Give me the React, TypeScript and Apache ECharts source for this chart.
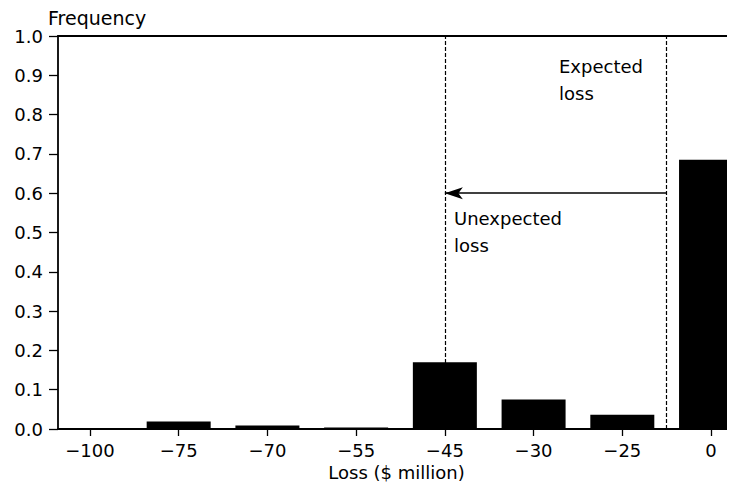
import React, { useEffect, useRef } from "react";
import * as echarts from "echarts";

const categories = ["−100", "−75", "−70", "−55", "−45", "−30", "−25", "0"];
const frequencies = [0, 0.019, 0.009, 0.004, 0.17, 0.075, 0.036, 0.685];
const yTicks = [0, 0.1, 0.2, 0.3, 0.4, 0.5, 0.6, 0.7, 0.8, 0.9, 1.0];
const unexpectedLossPos = 4; // at −45
const expectedLossPos = 6.5; // between −25 and 0
const arrowLevel = 0.6;

const FONT = "'DejaVu Sans', 'Liberation Sans', Arial, sans-serif";
const FS = 18;

export default function App() {
  const ref = useRef<HTMLDivElement>(null);
  useEffect(() => {
    if (!ref.current) return;
    const chart = echarts.init(ref.current, null, { renderer: "svg" });
    const idx = categories.map((_, i) => i);
    chart.setOption({
      animation: false,
      textStyle: { fontFamily: FONT, color: "#000" },
      grid: { left: 58, right: 0, top: 36, bottom: 62, containLabel: false },
      xAxis: [
        {
          type: "value",
          min: -0.36,
          max: 7.27,
          position: "bottom",
          axisLine: { show: true, onZero: false, lineStyle: { color: "#000", width: 1.8 } },
          axisTick: { show: true, customValues: idx, length: 7, inside: false, lineStyle: { color: "#000", width: 1.3 } },
          axisLabel: {
            customValues: idx,
            margin: 12,
            fontSize: FS,
            color: "#000",
            fontFamily: FONT,
            formatter: (v: number) => categories[Math.round(v)] ?? "",
          },
          splitLine: { show: false },
          name: "Loss ($ million)",
          nameLocation: "middle",
          nameGap: 34,
          nameTextStyle: { fontSize: FS, color: "#000", fontFamily: FONT },
        },
        {
          type: "value",
          min: -0.36,
          max: 7.27,
          position: "top",
          axisLine: { show: true, onZero: false, lineStyle: { color: "#000", width: 1.8 } },
          axisTick: { show: false },
          axisLabel: { show: false },
          splitLine: { show: false },
        },
      ],
      yAxis: {
        type: "value",
        min: 0,
        max: 1,
        interval: 0.1,
        axisLine: { show: true, onZero: false, lineStyle: { color: "#000", width: 1.8 } },
        axisTick: { show: true, length: 9, lineStyle: { color: "#000", width: 1.3 } },
        axisLabel: {
          margin: 15,
          fontSize: FS,
          color: "#000",
          fontFamily: FONT,
          formatter: (v: number) => v.toFixed(1),
          customValues: yTicks,
        },
        splitLine: { show: false },
      },
      series: [
        {
          type: "bar",
          data: frequencies.map((f, i) => [i, f]),
          barWidth: 64,
          itemStyle: { color: "#000" },
          clip: true,
          markLine: {
            silent: true,
            symbol: "none",
            label: { show: false },
            lineStyle: { color: "#000", type: [4, 2], width: 1.2 },
            data: [
              [{ coord: [unexpectedLossPos, 0] }, { coord: [unexpectedLossPos, 1] }],
              [{ coord: [expectedLossPos, 0] }, { coord: [expectedLossPos, 1] }],
              [
                { coord: [expectedLossPos, arrowLevel], symbol: "none", lineStyle: { type: "solid", width: 1.5 } },
                { coord: [unexpectedLossPos, arrowLevel], symbol: "arrow", symbolSize: [9, 18], lineStyle: { type: "solid", width: 1.5 } },
              ],
            ],
          },
        },
      ],
      graphic: [
        { type: "text", left: 48, top: 8, style: { text: "Frequency", fontSize: 19, fill: "#000", fontFamily: FONT } },
        { type: "text", left: 559, top: 53, style: { text: "Expected\nloss", fontSize: FS, lineHeight: 27, fill: "#000", fontFamily: FONT } },
        { type: "text", left: 454, top: 205, style: { text: "Unexpected\nloss", fontSize: FS, lineHeight: 27, fill: "#000", fontFamily: FONT } },
      ],
    });
    return () => chart.dispose();
  }, []);
  return <div ref={ref} style={{ width: 735, height: 491, margin: -8 }} />;
}
